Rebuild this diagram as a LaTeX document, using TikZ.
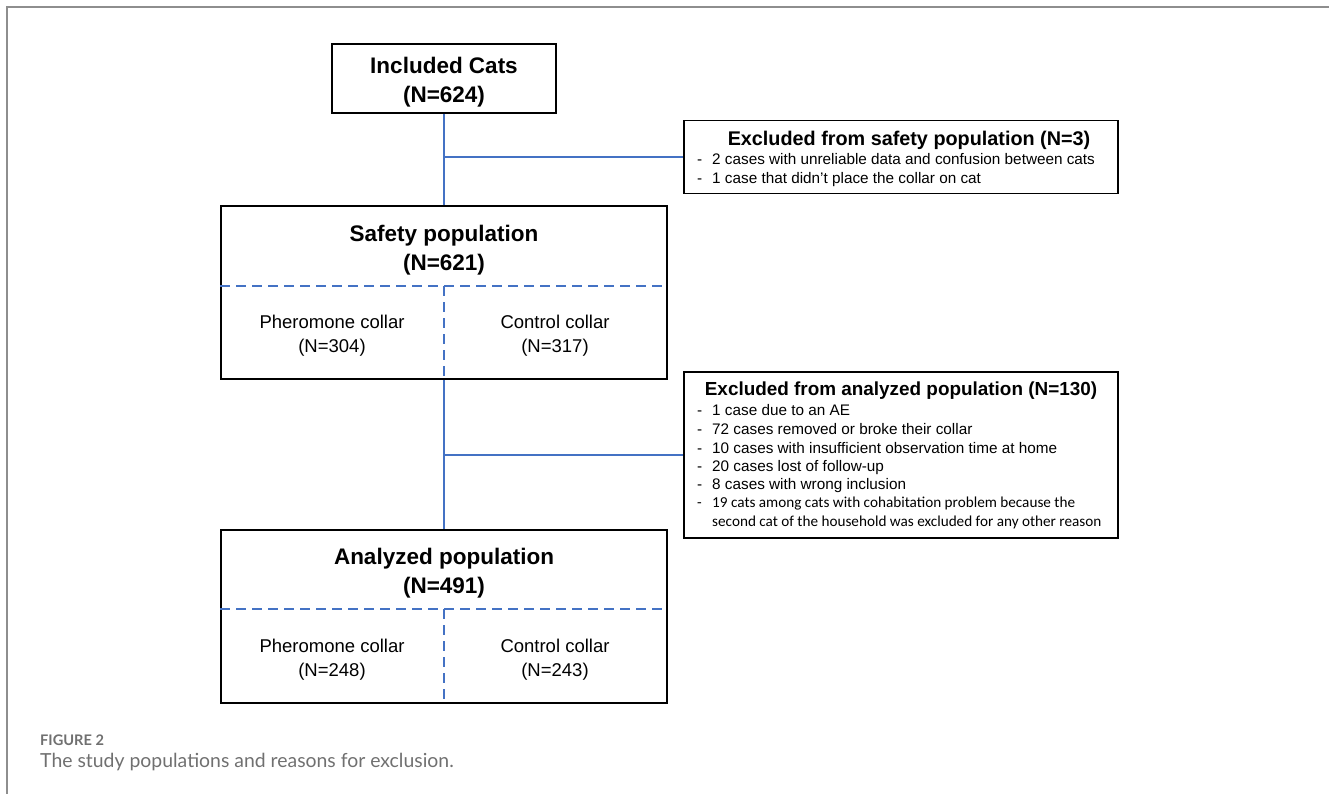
\documentclass[tikz,border=0pt]{standalone}
\usepackage{fontspec}
\usepackage{xcolor}
\setmainfont{Liberation Sans}
\newfontfamily\calfont{Carlito}
\newfontfamily\capfont{Lato}
\definecolor{linkblue}{HTML}{4472C4}
\definecolor{framegray}{HTML}{8E8E8E}
\definecolor{capgray}{HTML}{707070}
\newcommand{\bigtxt}{\fontsize{22.5}{29}\selectfont\bfseries}
\newcommand{\midtxt}{\fontsize{18.5}{24}\selectfont}
\newcommand{\extitle}{\fontsize{19.8}{22}\selectfont\bfseries}
\newcommand{\extxt}{\fontsize{15.3}{17}\selectfont}
\newcommand{\exitem}[1]{\makebox[15pt][l]{-}#1}
\tikzset{
  popbox/.style={draw=black,line width=1.8pt,minimum width=446pt,minimum height=173pt,inner sep=0pt},
  exbox/.style={draw=black,line width=1.4pt,minimum width=434pt,inner sep=0pt},
  link/.style={linkblue,line width=1.8pt},
  divide/.style={linkblue,line width=1.8pt,dash pattern=on 10pt off 6pt},
  item/.style={anchor=west,inner sep=0pt,text height=11pt,text depth=3pt,font=\extxt}
}
\begin{document}
\begin{tikzpicture}[x=1pt,y=-1pt]
  \useasboundingbox (0,0) rectangle (1329,794);
  \draw[framegray,line width=2pt] (1329,7) -- (7,7) -- (7,794);

  \node[draw=black,line width=1.8pt,minimum width=224pt,minimum height=69pt] (inc) at (444,78.5) {};
  \node[popbox] (safe) at (444,292.5) {};
  \node[popbox] (ana) at (444,616.5) {};
  \node[exbox,minimum height=73pt] (exsafe) at (901,157) {};
  \node[exbox,minimum height=166pt] (exana) at (901,455) {};

  \coordinate (safediv) at (444,286);
  \coordinate (anadiv) at (444,609);
  \draw[divide] (safe.west |- safediv) -- (safe.east |- safediv);
  \draw[divide] (safediv) -- (safe.south);
  \draw[divide] (ana.west |- anadiv) -- (ana.east |- anadiv);
  \draw[divide] (anadiv) -- (ana.south);

  \draw[link] (inc.south) -- (safe.north);
  \draw[link] (inc.south |- exsafe.west) -- (exsafe.west);
  \draw[link] (safe.south) -- (ana.north);
  \draw[link] (safe.south |- exana.west) -- (exana.west);

  \node[align=center,font=\bigtxt] (inct) at (444,82.5) {Included Cats\\(N=624)};
  \node[align=center,font=\bigtxt] (safet) at (444,250) {Safety population\\(N=621)};
  \node[align=center,font=\midtxt] (safep) at (332,336) {Pheromone collar\\(N=304)};
  \node[align=center,font=\midtxt] (safec) at (555,336) {Control collar\\(N=317)};
  \node[align=center,font=\bigtxt] (anat) at (444,573.5) {Analyzed population\\(N=491)};
  \node[align=center,font=\midtxt] (anap) at (332,660) {Pheromone collar\\(N=248)};
  \node[align=center,font=\midtxt] (anac) at (555,660) {Control collar\\(N=243)};

  \node[font=\extitle,inner sep=0pt] (exsafet) at (909,140) {Excluded from safety population (N=3)};
  \node[item] (es1) at (697,161) {\exitem{2 cases with unreliable data and confusion between cats}};
  \node[item] (es2) at (697,180) {\exitem{1 case that didn’t place the collar on cat}};

  \node[font=\fontsize{18.9}{22}\selectfont\bfseries,inner sep=0pt] (exanat) at (901,391) {Excluded from analyzed population (N=130)};
  \node[item] (ea1) at (697,411) {\exitem{1 case due to an AE}};
  \node[item] (ea2) at (697,430) {\exitem{72 cases removed or broke their collar}};
  \node[item] (ea3) at (697,449) {\exitem{10 cases with insufficient observation time at home}};
  \node[item] (ea4) at (697,467) {\exitem{20 cases lost of follow-up}};
  \node[item] (ea5) at (697,485) {\exitem{8 cases with wrong inclusion}};
  \node[item,font=\calfont\fontsize{15.2}{17}\selectfont] (ea6) at (697,503)
    {\exitem{19 cats among cats with cohabitation problem because the}};
  \node[item,font=\calfont\fontsize{15.2}{17}\selectfont] (ea7) at (712,522)
    {second cat of the household was excluded for any other reason};

  \node[anchor=west,inner sep=0pt,text=capgray,font=\capfont\fontsize{14.6}{17}\selectfont\bfseries] (fig) at (40,740) {FIGURE 2};
  \node[anchor=west,inner sep=0pt,text=capgray,font=\capfont\fontsize{19.4}{22}\selectfont] (cap) at (40,762)
    {The study populations and reasons for exclusion.};
\end{tikzpicture}
\end{document}
